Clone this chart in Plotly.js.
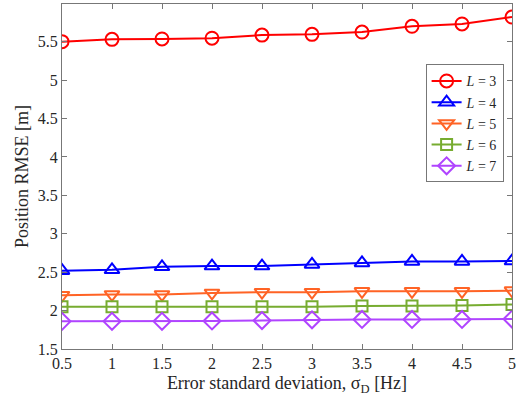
<!DOCTYPE html>
<html><head><meta charset="utf-8">
<script src="https://cdn.plot.ly/plotly-3.0.1.min.js"></script>
<style>body{margin:0;background:#fff}#p{width:527px;height:400px}</style>
</head><body><div id="p"></div>
<script>
const x = [0.5, 1, 1.5, 2, 2.5, 3, 3.5, 4, 4.5, 5];
const L3 = [5.50, 5.53, 5.535, 5.545, 5.585, 5.595, 5.625, 5.70, 5.73, 5.82];
const L4 = [2.52, 2.53, 2.57, 2.58, 2.58, 2.60, 2.62, 2.64, 2.64, 2.645];
const L5 = [2.20, 2.21, 2.21, 2.23, 2.24, 2.24, 2.25, 2.25, 2.25, 2.26];
const L6 = [2.05, 2.05, 2.05, 2.05, 2.05, 2.05, 2.06, 2.06, 2.065, 2.08];
const L7 = [1.86, 1.86, 1.86, 1.865, 1.87, 1.88, 1.885, 1.885, 1.885, 1.89];
const names = ['<i>L</i> = 3', '<i>L</i> = 4', '<i>L</i> = 5', '<i>L</i> = 6', '<i>L</i> = 7'];
const series = [L3, L4, L5, L6, L7];
const colors = ['#ff0000', '#0000ff', '#ff6325', '#77ac30', '#b044ff'];
const symbols = ['circle-open', 'triangle-up-open', 'triangle-down-open', 'square-open', 'diamond-open'];
const sizes = [13, 13, 13, 11, 13];
const traces = series.map((y, i) => ({
  x: x, y: y, name: names[i], type: 'scatter', mode: 'lines+markers',
  line: {color: colors[i], width: 2},
  marker: {symbol: symbols[i], size: sizes[i], color: colors[i], line: {width: 2, color: colors[i]}}
}));
const fam = 'Liberation Serif, Times New Roman, serif';
const tickFont = {family: fam, size: 16, color: '#262626'};
const titleFont = {family: fam, size: 18, color: '#262626'};
const legFont = {family: fam, size: 14, color: '#262626'};
const axisCommon = {
  showline: true, mirror: 'ticks', linecolor: '#777', linewidth: 1,
  ticks: 'inside', ticklen: 5, tickcolor: '#777', showgrid: false, zeroline: false,
  tickfont: tickFont
};
const layout = {
  width: 527, height: 400,
  margin: {l: 62, r: 15, t: 4, b: 51},
  paper_bgcolor: '#fff', plot_bgcolor: '#fff',
  font: tickFont,
  showlegend: true,
  legend: {x: 0.808, y: 0.825, xanchor: 'left', yanchor: 'top', bgcolor: '#fff', bordercolor: '#777', borderwidth: 1, font: legFont, tracegroupgap: 0, itemwidth: 30},
  xaxis: Object.assign({}, axisCommon, {range: [0.5, 5], tickvals: x, ticktext: x.map(String),
    title: {text: 'Error standard deviation, σ<sub>D</sub> [Hz]', font: titleFont, standoff: 5}}),
  yaxis: Object.assign({}, axisCommon, {range: [1.5, 5.99], tickvals: [1.5, 2, 2.5, 3, 3.5, 4, 4.5, 5, 5.5],
    ticktext: ['1.5', '2', '2.5', '3', '3.5', '4', '4.5', '5', '5.5'], ticklabelstandoff: 0,
    title: {text: 'Position RMSE [m]', font: titleFont, standoff: 4}})
};
Plotly.newPlot('p', traces, layout, {displayModeBar: false, staticPlot: true});
</script></body></html>
